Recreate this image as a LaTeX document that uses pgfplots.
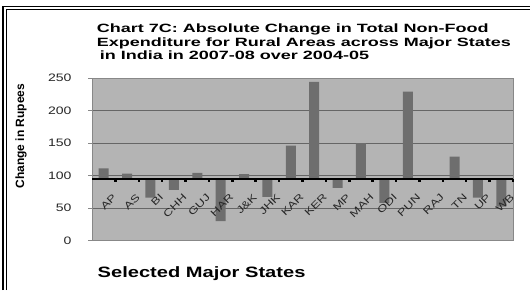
\documentclass[border=0pt]{standalone}
\usepackage{pgfplots}
\pgfplotsset{compat=1.18}
\usepackage{pgfplotstable}
\usepackage{fontspec}
\setmainfont{Liberation Sans}
\newfontfamily\wfont{Liberation Sans}[FakeStretch=1.3]
\newfontfamily\tfont{Liberation Sans}[FakeStretch=1.5]
\newfontfamily\xfont{Liberation Sans}[FakeStretch=1.34]
\definecolor{plotbg}{HTML}{B4B4B4}
\definecolor{barc}{HTML}{6E6E6E}
\definecolor{gridc}{HTML}{666666}
\definecolor{framec}{HTML}{888888}
\definecolor{tickc}{HTML}{262626}

\pgfplotstableread{
i v
0 111
1 103
2 66
3 78
4 104
5 30
6 102
7 67
8 146
9 244
10 81
11 150
12 58
13 229
14 95
15 129
16 66
17 52
}\data

\begin{document}
\begin{tikzpicture}
\path[use as bounding box, fill=white] (0pt,0pt) rectangle (530pt,290pt);
\draw[line width=1.4pt] (2.8pt,0pt) -- (2.8pt,283.5pt) -- (530pt,283.5pt);
\draw[line width=0.7pt] (6.6pt,0pt) -- (6.6pt,280.3pt) -- (530pt,280.3pt);
\begin{axis}[at={(92pt,49.5pt)}, anchor=south west, scale only axis,
  width=421pt, height=162.5pt,
  xmin=-0.5, xmax=17.5, ymin=-95, ymax=155,
  ytick={-95,-45,5,55,105,155}, yticklabels={0,50,100,150,200,250},
  xtick=\empty,
  ymajorgrids, grid style={draw=gridc, line width=0.6pt},
  axis background/.style={fill=plotbg},
  axis line style={draw=framec, line width=0.8pt},
  ytick style={draw=framec, line width=0.6pt},
  tick align=outside, ytick pos=left, major tick length=4pt,
  /pgf/number format/assume math mode=true,
  yticklabel style={font=\wfont\fontsize{10.8}{13}\selectfont, text=tickc, xshift=-13pt},
  ybar, bar width=10pt]
\addplot[fill=barc, draw=none, ybar] table[x=i, y expr=\thisrow{v}-95] {\data};
\end{axis}
\begin{axis}[at={(92pt,49.5pt)}, anchor=south west, scale only axis,
  width=421pt, height=162.5pt,
  xmin=-0.5, xmax=17.5, ymin=-95, ymax=155,
  axis x line=middle, axis y line=none,
  x axis line style={-, black, line width=2pt},
  xtick={0,...,17},
  xticklabels={AP,AS,BI,CHH,GUJ,HAR,J\&K,JHK,KAR,KER,MP,MAH,ODI,PUN,RAJ,TN,UP,WB},
  minor xtick={0.5,1.5,...,17.5},
  major tick length=0pt, minor tick length=3pt,
  minor tick style={black, line width=2.5pt},
  tick align=outside,
  xticklabel style={rotate=45, anchor=north east, font=\wfont\fontsize{10}{12}\selectfont, text=tickc, inner sep=1pt, yshift=-15pt, xshift=-3pt}]
\end{axis}
\node[anchor=north west, align=left, inner sep=0, font=\tfont\bfseries\fontsize{12}{13.5}\selectfont] at (96.7pt,266pt)
 {Chart 7C: Absolute Change in Total Non-Food\\Expenditure for Rural Areas across Major States\\\hspace{3pt}in India in 2007-08 over 2004-05};
\node[anchor=base west, inner sep=0, font=\xfont\bfseries\fontsize{15}{17}\selectfont] at (97.5pt,12.5pt) {Selected Major States};
\node[rotate=90, inner sep=0, font=\bfseries\fontsize{12}{14}\selectfont] at (21pt,154pt) {Change in Rupees};
\end{tikzpicture}
\end{document}
